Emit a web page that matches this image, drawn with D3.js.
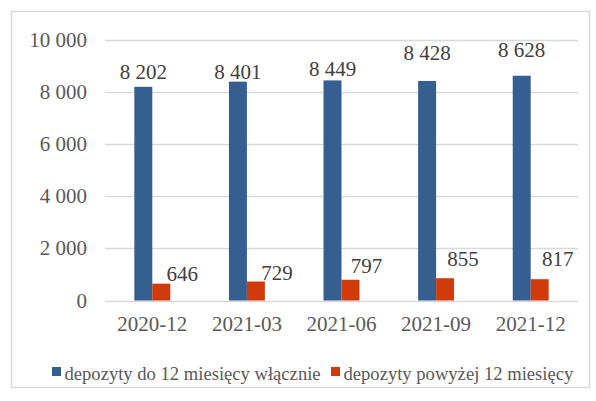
<!DOCTYPE html>
<html>
<head>
<meta charset="utf-8">
<script src="https://cdn.jsdelivr.net/npm/d3@7"></script>
<style>
  body { margin: 0; background: #fff; }
  svg { font-family: "Liberation Serif", "Times New Roman", serif; }
</style>
</head>
<body>
<svg id="chart" width="596" height="401"></svg>
<script>
const categories = ["2020-12", "2021-03", "2021-06", "2021-09", "2021-12"];
const seriesNames = ["depozyty do 12 miesięcy włącznie", "depozyty powyżej 12 miesięcy"];
const shortTerm = [8202, 8401, 8449, 8428, 8628];
const longTerm = [646, 729, 797, 855, 817];
const yTicks = [0, 2000, 4000, 6000, 8000, 10000];

// label placement as in the original (manually nudged labels)
const blueLift = [8, 3, 4, 21, 19];
const redLift = [3, 2, 7, 12, 13];
const redShift = [21, 21, 16, 18, 18];

const colors = ["#365F91", "#D13A0B"];
const textColor = "#595959";

const svg = d3.select("#chart");
const width = 596, height = 401;
const margin = { top: 40, right: 18, bottom: 100.5, left: 105 };

svg.append("rect")
  .attr("x", 11.5).attr("y", 11.5)
  .attr("width", 578).attr("height", 376)
  .attr("fill", "#fff").attr("stroke", "#D9D9D9").attr("stroke-width", 1.5);

const x = d3.scaleBand()
  .domain(categories)
  .range([margin.left, width - margin.right])
  .paddingInner(0.62)
  .paddingOuter(0.31);

const xs = d3.scaleBand().domain([0, 1]).range([0, x.bandwidth()]);

const y = d3.scaleLinear()
  .domain([0, 10000])
  .range([height - margin.bottom, margin.top]);

const fmt = (v) => d3.format(",")(v).replace(/,/g, " ");

// grid
svg.append("g")
  .selectAll("line")
  .data(yTicks)
  .join("line")
  .attr("x1", margin.left).attr("x2", width - margin.right)
  .attr("y1", (d) => Math.round(y(d)) + 0.5).attr("y2", (d) => Math.round(y(d)) + 0.5)
  .attr("stroke", "#D9D9D9").attr("stroke-width", 1.5);

// y axis labels
svg.append("g")
  .selectAll("text")
  .data(yTicks)
  .join("text")
  .attr("x", 87)
  .attr("y", (d) => y(d) + 7)
  .attr("text-anchor", "end")
  .attr("font-size", "21px")
  .attr("fill", textColor)
  .text(fmt);

// x axis labels
svg.append("g")
  .selectAll("text")
  .data(categories)
  .join("text")
  .attr("x", (d) => x(d) + x.bandwidth() / 2)
  .attr("y", 331)
  .attr("text-anchor", "middle")
  .attr("font-size", "21px")
  .attr("fill", textColor)
  .text((d) => d);

const series = [shortTerm, longTerm];

series.forEach((vals, s) => {
  svg.append("g")
    .selectAll("rect")
    .data(vals)
    .join("rect")
    .attr("x", (d, i) => x(categories[i]) + xs(s))
    .attr("y", (d) => y(d))
    .attr("width", xs.bandwidth())
    .attr("height", (d) => y(0) - y(d))
    .attr("fill", colors[s]);
});

// data labels
svg.append("g")
  .selectAll("text")
  .data(shortTerm)
  .join("text")
  .attr("x", (d, i) => x(categories[i]) + xs(0) + xs.bandwidth() / 2)
  .attr("y", (d, i) => y(d) - blueLift[i])
  .attr("text-anchor", "middle")
  .attr("font-size", "21px")
  .attr("fill", "#404040")
  .text(fmt);

svg.append("g")
  .selectAll("text")
  .data(longTerm)
  .join("text")
  .attr("x", (d, i) => x(categories[i]) + xs(1) + xs.bandwidth() / 2 + redShift[i])
  .attr("y", (d, i) => y(d) - redLift[i])
  .attr("text-anchor", "middle")
  .attr("font-size", "21px")
  .attr("fill", "#404040")
  .text(fmt);

// legend
const legend = svg.append("g").attr("transform", "translate(0, 380)");
const legendX = [52, 331];
seriesNames.forEach((name, i) => {
  legend.append("rect")
    .attr("x", legendX[i]).attr("y", -13)
    .attr("width", 9).attr("height", 9)
    .attr("fill", colors[i]);
  legend.append("text")
    .attr("x", legendX[i] + 12.5).attr("y", 0)
    .attr("font-size", "18.6px")
    .attr("fill", textColor)
    .text(name);
});
</script>
</body>
</html>
